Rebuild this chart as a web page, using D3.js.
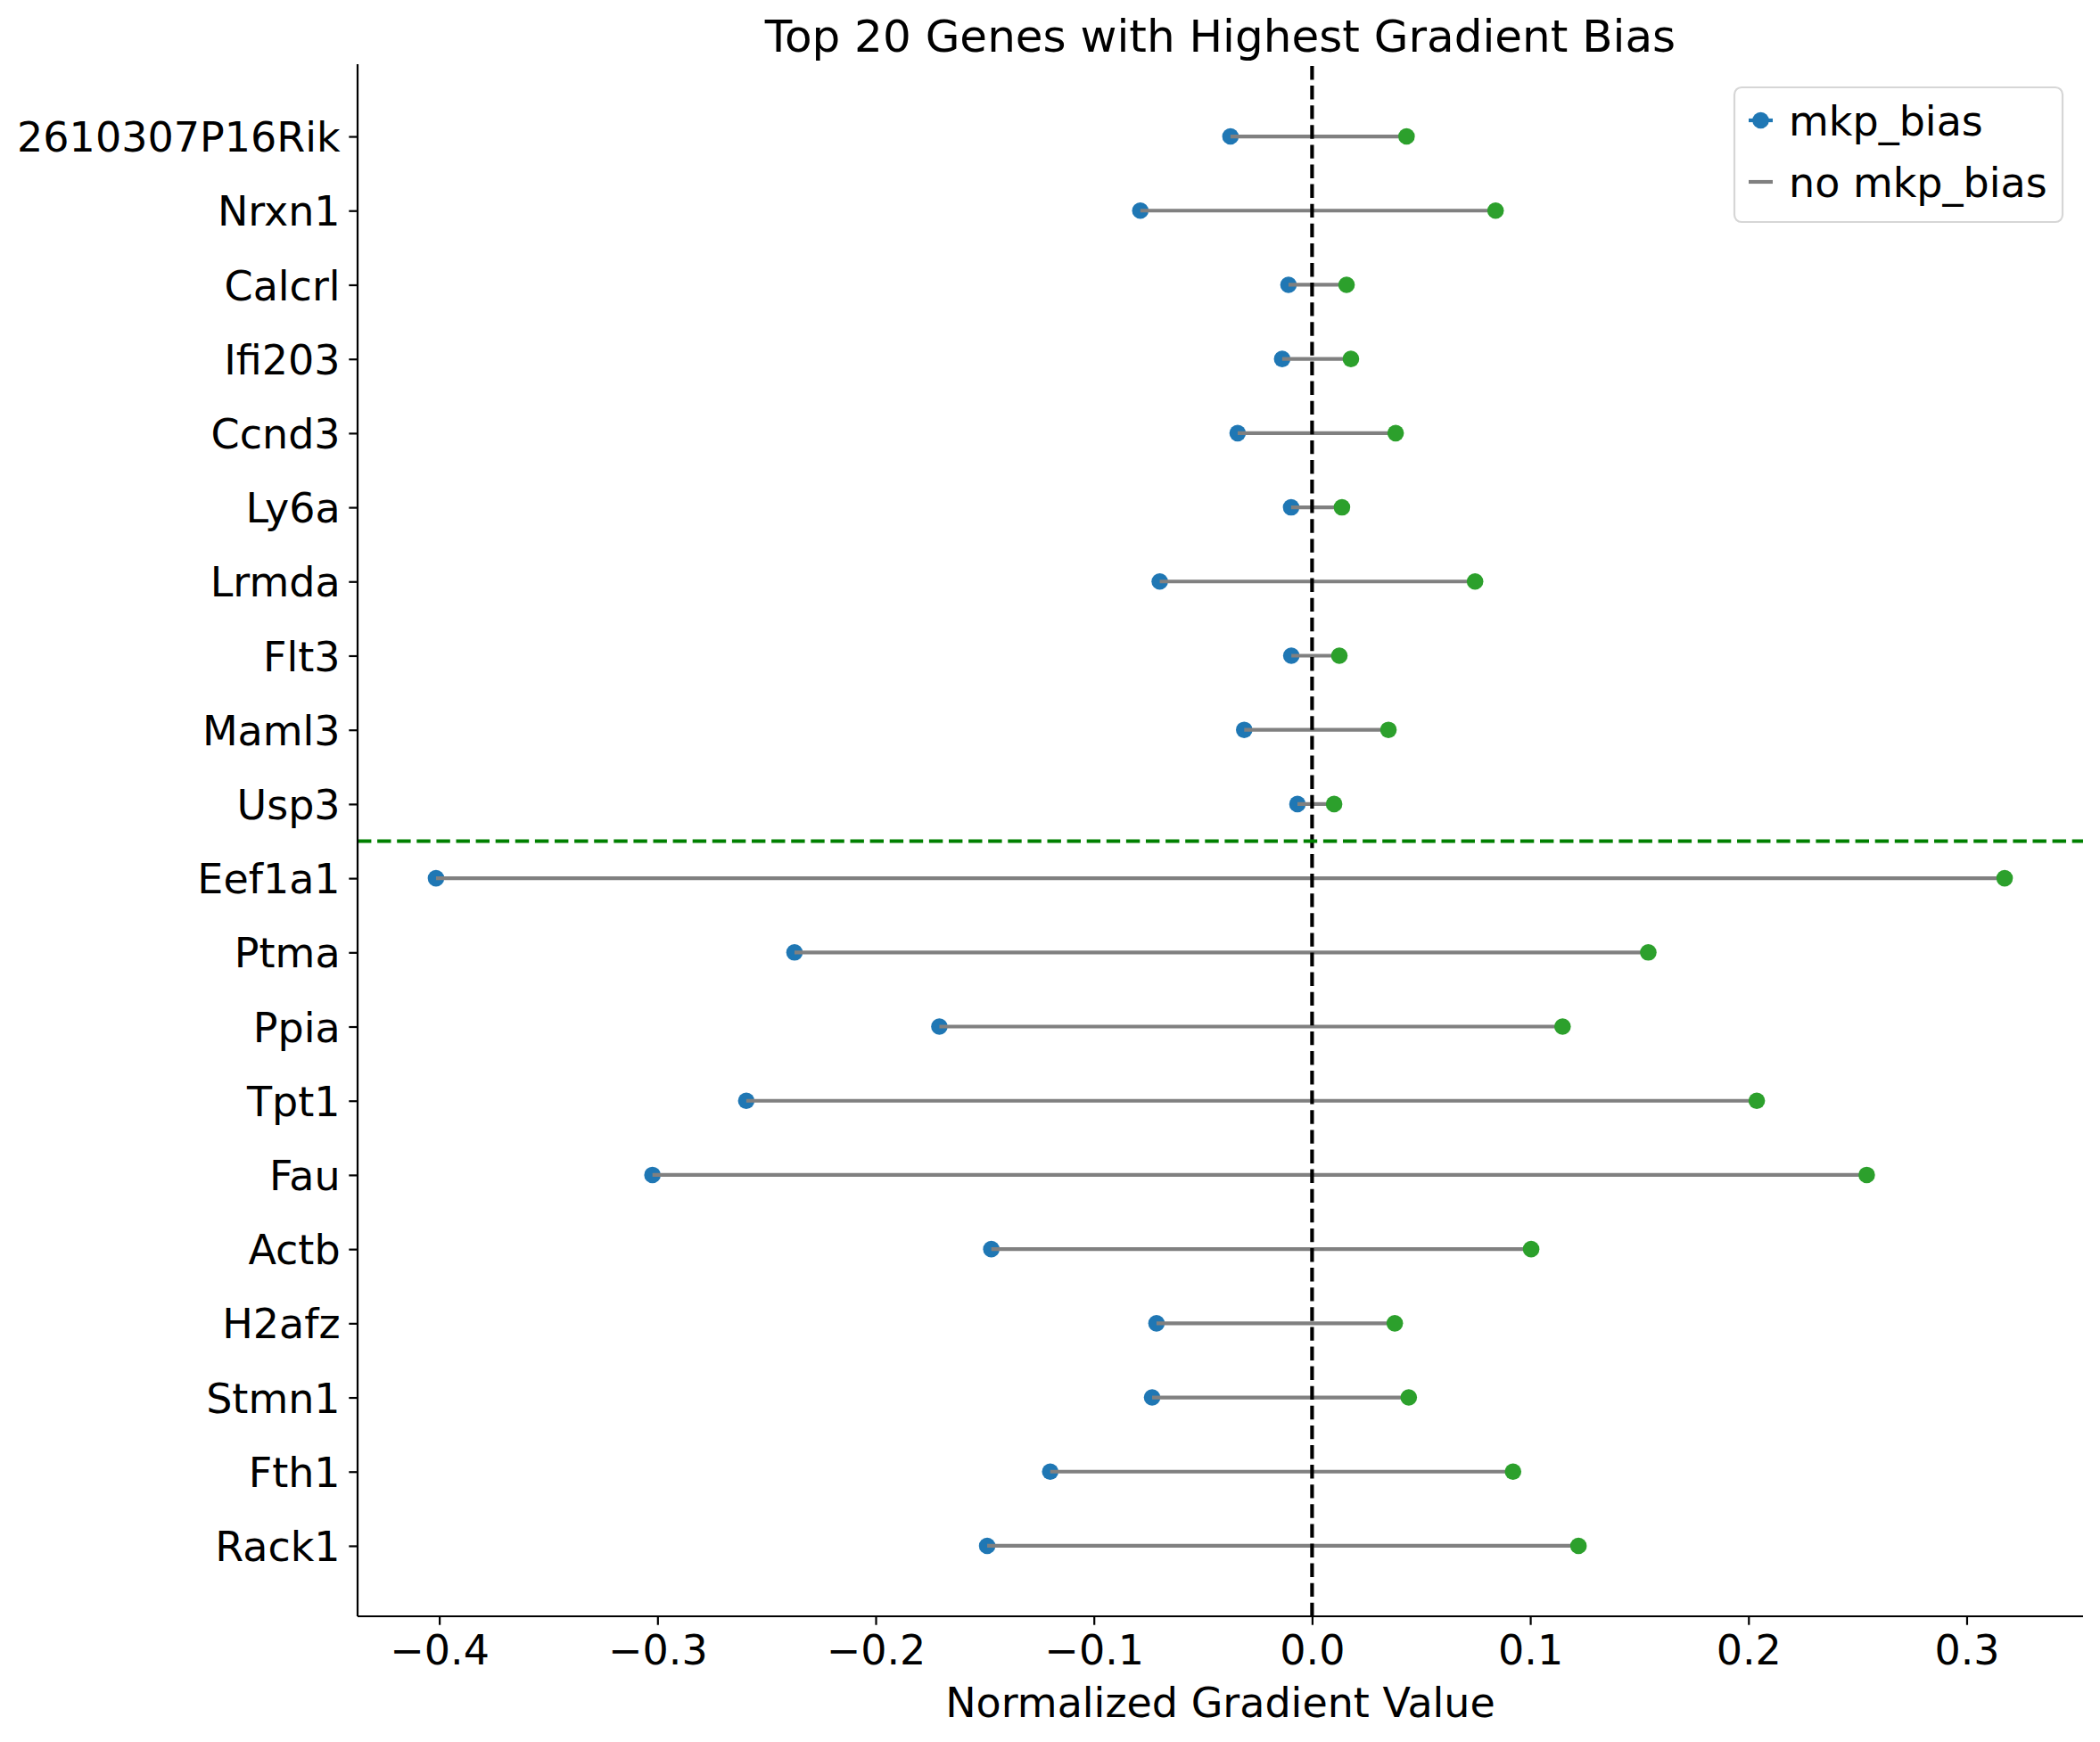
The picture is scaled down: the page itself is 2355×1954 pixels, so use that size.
<!DOCTYPE html>
<html lang="en">

<head>
    <meta charset="UTF-8">
    <title>Top 20 Genes with Highest Gradient Bias</title>
    <style>
        body { margin: 0; background: #fff; }
        text { font-family: "DejaVu Sans", sans-serif; }
    </style>
</head>

<body>
    <div id="graph"></div>
    <script src="https://d3js.org/d3.v7.min.js"></script>

    <script>
        const WIDTH = 2355;
        const HEIGHT = 1954;
        const MARGIN = { top: 74, right: 19, bottom: 141, left: 401 };

        // genes top to bottom
        const GENES = [
            "2610307P16Rik", "Nrxn1", "Calcrl", "Ifi203", "Ccnd3", "Ly6a", "Lrmda", "Flt3", "Maml3", "Usp3",
            "Eef1a1", "Ptma", "Ppia", "Tpt1", "Fau", "Actb", "H2afz", "Stmn1", "Fth1", "Rack1"
        ];
        const MKP_BIAS = [
            -0.0374, -0.0787, -0.0108, -0.0137, -0.0341, -0.0096, -0.0698, -0.0095, -0.0311, -0.0067,
            -0.4015, -0.2372, -0.1708, -0.2593, -0.3023, -0.1470, -0.0713, -0.0733, -0.1200, -0.1489
        ];
        const NO_MKP_BIAS = [
            0.0433, 0.0841, 0.0158, 0.0178, 0.0383, 0.0137, 0.0747, 0.0125, 0.0350, 0.0101,
            0.3174, 0.1541, 0.1148, 0.2038, 0.2542, 0.1004, 0.0379, 0.0443, 0.0921, 0.1221
        ];
        const X_TICKS = [-0.4, -0.3, -0.2, -0.1, 0.0, 0.1, 0.2, 0.3];
        const SPLIT_AT = 9.5; // between Usp3 and Eef1a1

        const BLUE = "#1f77b4";
        const GREEN = "#2ca02c";
        const LW = 4.17;
        const DASH = "15.4,6.7";
        const R = 9.3;
        const FONT = 46;

        const innerW = WIDTH - MARGIN.left - MARGIN.right;
        const innerH = HEIGHT - MARGIN.top - MARGIN.bottom;

        const rows = GENES.map((g, i) => ({ gene: g, i: i, a: MKP_BIAS[i], b: NO_MKP_BIAS[i] }));

        const lo = d3.min(MKP_BIAS), hi = d3.max(NO_MKP_BIAS);
        const pad = (hi - lo) * 0.05;
        const xScale = d3.scaleLinear().domain([lo - pad, hi + pad]).range([0, innerW]);
        const yScale = d3.scaleLinear().domain([-0.95, GENES.length - 1 + 0.95]).range([0, innerH]);

        const svg = d3.select("#graph").append("svg")
            .attr("width", WIDTH).attr("height", HEIGHT);

        svg.append("rect").attr("width", WIDTH).attr("height", HEIGHT).attr("fill", "#fff");

        const g = svg.append("g").attr("transform", `translate(${MARGIN.left}, ${MARGIN.top})`);

        // blue points first, then connectors, then green points
        g.selectAll("circle.mkp").data(rows).enter().append("circle")
            .attr("class", "mkp")
            .attr("cx", d => xScale(d.a)).attr("cy", d => yScale(d.i))
            .attr("r", R).attr("fill", BLUE);

        g.selectAll("line.conn").data(rows).enter().append("line")
            .attr("class", "conn")
            .attr("x1", d => xScale(d.a)).attr("x2", d => xScale(d.b))
            .attr("y1", d => yScale(d.i)).attr("y2", d => yScale(d.i))
            .attr("stroke", "gray").attr("stroke-width", LW);

        g.selectAll("circle.nomkp").data(rows).enter().append("circle")
            .attr("class", "nomkp")
            .attr("cx", d => xScale(d.b)).attr("cy", d => yScale(d.i))
            .attr("r", R).attr("fill", GREEN);

        // zero line
        g.append("line")
            .attr("x1", xScale(0)).attr("x2", xScale(0))
            .attr("y1", 0).attr("y2", innerH)
            .attr("stroke", "black").attr("stroke-width", LW)
            .attr("stroke-dasharray", DASH);

        // split line
        g.append("line")
            .attr("x1", 0).attr("x2", innerW)
            .attr("y1", yScale(SPLIT_AT)).attr("y2", yScale(SPLIT_AT))
            .attr("stroke", "green").attr("stroke-width", LW)
            .attr("stroke-dasharray", DASH);

        // axes
        const fmt = v => (v < 0 ? "\u2212" : "") + Math.abs(v).toFixed(1);
        const xAxis = g.append("g")
            .attr("transform", `translate(0, ${innerH})`)
            .call(d3.axisBottom(xScale).tickValues(X_TICKS).tickFormat(fmt).tickSize(9.7).tickPadding(9.7));

        const yAxis = g.append("g")
            .call(d3.axisLeft(yScale).tickValues(d3.range(GENES.length)).tickFormat(i => GENES[i])
                .tickSize(9.7).tickPadding(9.7));

        [xAxis, yAxis].forEach(ax => {
            ax.select(".domain").attr("stroke-width", 2.2).attr("stroke", "black");
            ax.selectAll(".tick line").attr("stroke-width", 2.2).attr("stroke", "black");
            ax.selectAll(".tick text").attr("font-size", FONT).attr("fill", "black")
                .attr("font-family", "DejaVu Sans");
        });
        // matplotlib-style spine: drop d3's outer ticks
        xAxis.select(".domain").attr("d", `M0,0H${innerW}`);
        yAxis.select(".domain").attr("d", `M0,${-2}V${innerH}`);
        yAxis.selectAll(".tick text").attr("dy", "0.36em");
        xAxis.selectAll(".tick text").attr("dy", "0.76em");

        // title and label
        svg.append("text")
            .attr("x", MARGIN.left + innerW / 2).attr("y", 58)
            .attr("text-anchor", "middle").attr("font-size", 50)
            .text("Top 20 Genes with Highest Gradient Bias");

        svg.append("text")
            .attr("x", MARGIN.left + innerW / 2).attr("y", 1926)
            .attr("text-anchor", "middle").attr("font-size", FONT)
            .text("Normalized Gradient Value");

        // legend
        const leg = svg.append("g").attr("transform", "translate(1945, 98)");
        leg.append("rect")
            .attr("width", 368).attr("height", 151).attr("rx", 8)
            .attr("fill", "white").attr("fill-opacity", 0.8)
            .attr("stroke", "#d6d6d6").attr("stroke-width", 2.2);

        const LEGEND = [
            { label: "mkp_bias", color: BLUE, marker: true },
            { label: "no mkp_bias", color: "gray", marker: false }
        ];
        const items = leg.selectAll("g.item").data(LEGEND).enter().append("g")
            .attr("class", "item")
            .attr("transform", (d, i) => `translate(0, ${37 + i * 69})`);
        items.append("line")
            .attr("x1", 16).attr("x2", 43).attr("y1", 0).attr("y2", 0)
            .attr("stroke", d => d.color).attr("stroke-width", LW);
        items.filter(d => d.marker).append("circle")
            .attr("cx", 29.5).attr("cy", 0).attr("r", R).attr("fill", d => d.color);
        items.append("text")
            .attr("x", 61).attr("y", 0).attr("dy", "0.36em")
            .attr("font-size", FONT)
            .text(d => d.label);
    </script>
</body>

</html>
